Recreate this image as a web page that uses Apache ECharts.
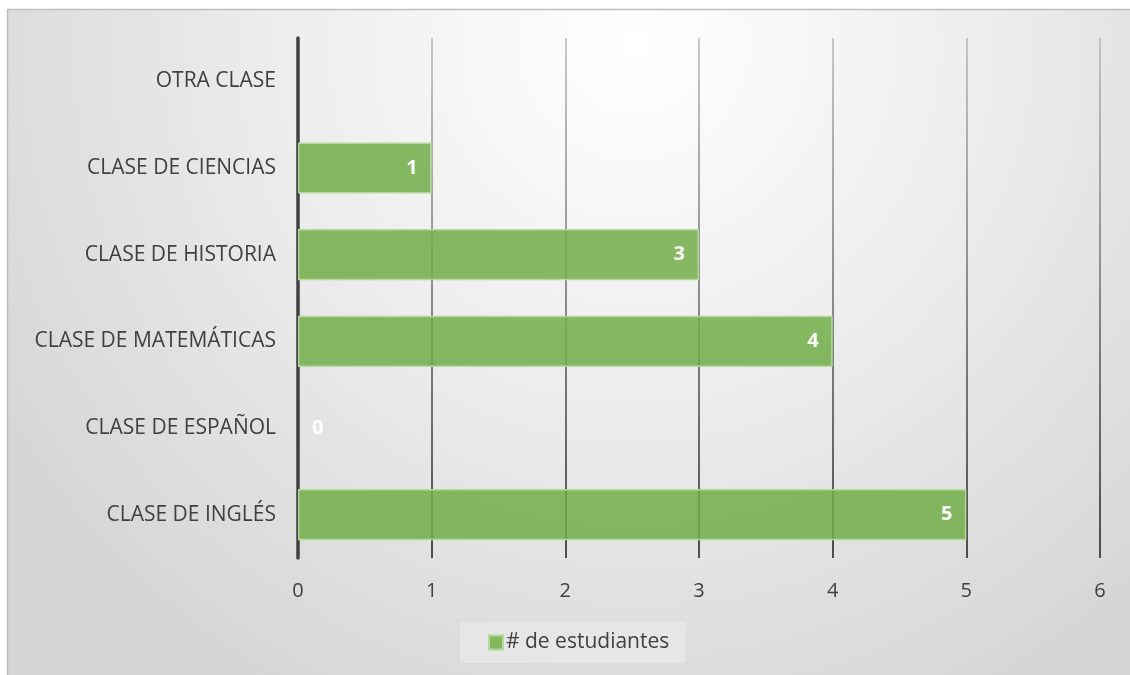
<!DOCTYPE html>
<html>
<head>
<meta charset="utf-8">
<script src="https://cdn.jsdelivr.net/npm/echarts@6/dist/echarts.min.js"></script>
<style>
html,body{margin:0;padding:0;background:#fff;}
#chart{width:1130px;height:675px;}
</style>
</head>
<body>
<div id="chart"></div>
<script>
const categories = ['CLASE DE INGLÉS', 'CLASE DE ESPAÑOL', 'CLASE DE MATEMÁTICAS', 'CLASE DE HISTORIA', 'CLASE DE CIENCIAS', 'OTRA CLASE'];
const students = [5, 0, 4, 3, 1, null];
const xTicks = [0, 1, 2, 3, 4, 5, 6];
const seriesName = '# de estudiantes';

const FONT = '"Open Sans", "Noto Sans", sans-serif';
const chart = echarts.init(document.getElementById('chart'), null, {renderer: 'canvas'});

const gridColor = new echarts.graphic.LinearGradient(0, 0, 0, 1, [
  {offset: 0, color: '#b8b8b8'},
  {offset: 1, color: '#1a1a1a'}
]);

chart.setOption({
  animation: false,
  graphic: [{
    type: 'rect',
    z: -10,
    silent: true,
    shape: {x: 7.5, y: 9.5, width: 1140, height: 700},
    style: {
      fill: new echarts.graphic.RadialGradient(0.55, 0.05, 1.05, [
        {offset: 0, color: '#ffffff'},
        {offset: 0.45, color: '#eeeeee'},
        {offset: 1, color: '#d6d6d6'}
      ]),
      stroke: '#bfbfbf',
      lineWidth: 1.5
    }
  }],
  legend: {
    data: [seriesName],
    bottom: 12,
    left: 460,
    backgroundColor: '#e6e6e6',
    padding: [10, 16, 10, 28],
    itemWidth: 14,
    itemHeight: 14,
    itemGap: 4,
    textStyle: {fontFamily: FONT, fontSize: 21, color: '#404040', padding: [0, 0, 0, -2]},
    icon: 'rect'
  },
  grid: {left: 298, right: 30, top: 38, bottom: 117, containLabel: false},
  xAxis: {
    type: 'value',
    min: 0,
    max: 6,
    interval: 1,
    axisLine: {show: false},
    axisTick: {show: false},
    axisLabel: {
      fontFamily: FONT, fontSize: 20, color: '#404040', margin: 23,
      formatter: v => xTicks.includes(v) ? String(v) : ''
    },
    splitLine: {show: true, lineStyle: {color: gridColor, width: 1.5}}
  },
  yAxis: {
    type: 'category',
    data: categories,
    axisLine: {show: true, lineStyle: {color: '#404040', width: 3.5}},
    axisTick: {show: false},
    axisLabel: {fontFamily: FONT, fontSize: 21, color: '#404040', margin: 22}
  },
  series: [{
    name: seriesName,
    type: 'bar',
    barCategoryGap: '41%',
    data: students.map(v => v === 0 ? {value: v, itemStyle: {borderWidth: 0}, label: {position: 'right', distance: 14}} : v),
    itemStyle: {color: 'rgba(112,173,71,0.85)', borderColor: '#b5d99c', borderWidth: 1.5},
    label: {
      show: true,
      position: 'insideRight',
      distance: 14,
      fontFamily: FONT,
      fontSize: 20,
      fontWeight: 'bold',
      color: '#ffffff'
    }
  }]
});
</script>
</body>
</html>
